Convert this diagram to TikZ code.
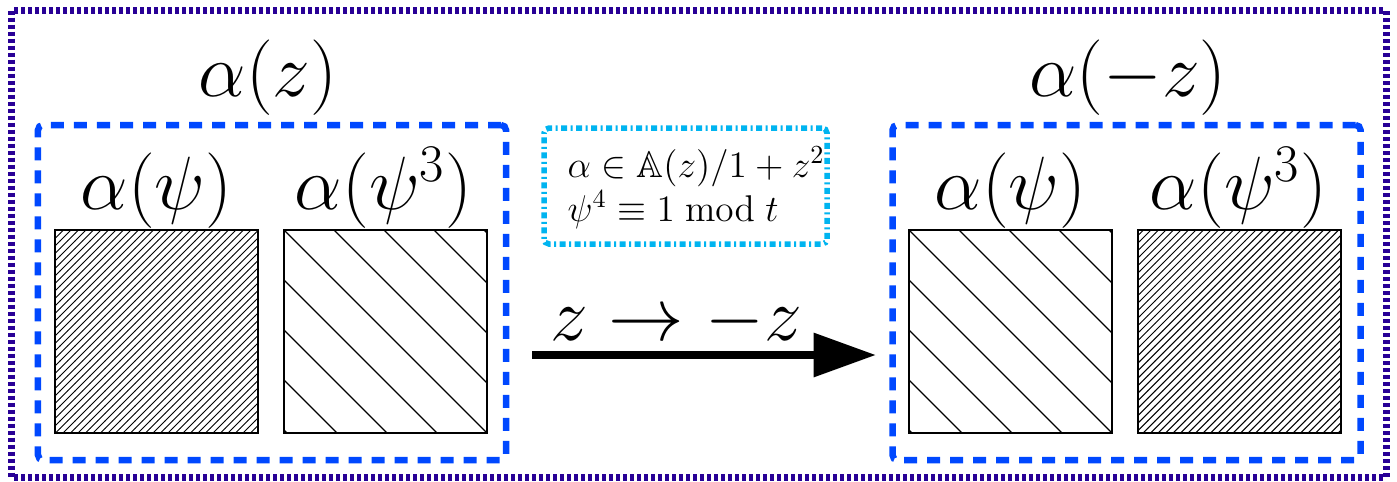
\RequirePackage{fix-cm}
\documentclass[tikz,border=0pt]{standalone}
\usepackage{amssymb}
\usetikzlibrary{patterns,arrows.meta}
\definecolor{outerc}{RGB}{40,0,150}
\definecolor{boxblue}{RGB}{0,72,255}
\definecolor{formulacyan}{RGB}{0,180,240}
\begin{document}
\begin{tikzpicture}[x=0.4pt,y=-0.4pt,
  bigtext/.style={inner sep=0pt, anchor=base, font=\fontsize{30.2}{36}\selectfont},
  smalltext/.style={inner sep=0pt, anchor=base west, font=\fontsize{14.9}{18}\selectfont},
  outerborder/.style={draw=outerc, line width=2.8pt, dash pattern=on 1.6pt off 1.2pt},
  bluebox/.style={draw=boxblue, line width=2.6pt, dash pattern=on 5.2pt off 4pt, rounded corners=2pt, inner sep=0pt, minimum width=187.2pt, minimum height=134pt},
  formulabox/.style={draw=formulacyan, line width=2.2pt, dash pattern=on 2.4pt off 1.4pt on 0.8pt off 1.4pt, rounded corners=2pt, inner sep=0pt, minimum width=113.2pt, minimum height=46.4pt},
  densesq/.style={draw=black, line width=0.5pt, pattern=north east lines, inner sep=0pt, minimum size=81.2pt},
  sparsesq/.style={draw=black, line width=0.5pt, inner sep=0pt, minimum size=81.2pt,
    path picture={\foreach \k in {-4,...,4}{\draw[line width=0.5pt] ([xshift=\k*20pt]path picture bounding box.north west) -- ++(203,203);}}},
  maparrow/.style={line width=3.3pt, -{Triangle[length=25pt,width=17pt]}}
]
\useasboundingbox (0,0) rectangle (1397,481);
\draw[outerborder] (11.5,10.5) rectangle (1386,477);

% boxes
\node[bluebox] (leftbox) at (272,292.5) {};
\node[bluebox] (rightbox) at (1126.5,292.5) {};
\node[formulabox] (formula) at (685.5,186) {};

% squares
\node[densesq] (sqA) at (156.5,331.5) {};
\node[sparsesq] (sqB) at (385.5,331.5) {};
\node[sparsesq] (sqC) at (1010.5,331.5) {};
\node[densesq] (sqD) at (1239.5,331.5) {};

% labels
\node[bigtext] (ttlL) at (268,96) {$\alpha(z)$};
\node[bigtext] (ttlR) at (1128,96) {$\alpha(-z)$};
\node[bigtext] (labA) at (156.5,209) {$\alpha(\psi)$};
\node[bigtext] (labB) at (383.5,209) {$\alpha(\psi^3)$};
\node[bigtext] (labC) at (1010.5,209) {$\alpha(\psi)$};
\node[bigtext] (labD) at (1238.5,209) {$\alpha(\psi^3)$};

% formula text
\node[smalltext] (f1) at (567,177) {$\alpha \in \mathbb{A}(z)/1 + z^2$};
\node[smalltext] (f2) at (567,221) {$\psi^4 \equiv 1 \bmod t$};

% arrow
\coordinate (arrowstart) at (532,355);
\coordinate (arrowend) at (876,355);
\draw[maparrow] (arrowstart) -- (arrowend);
\node[bigtext] (maplabel) at (676,340) {$z \to -z$};
\end{tikzpicture}
\end{document}
